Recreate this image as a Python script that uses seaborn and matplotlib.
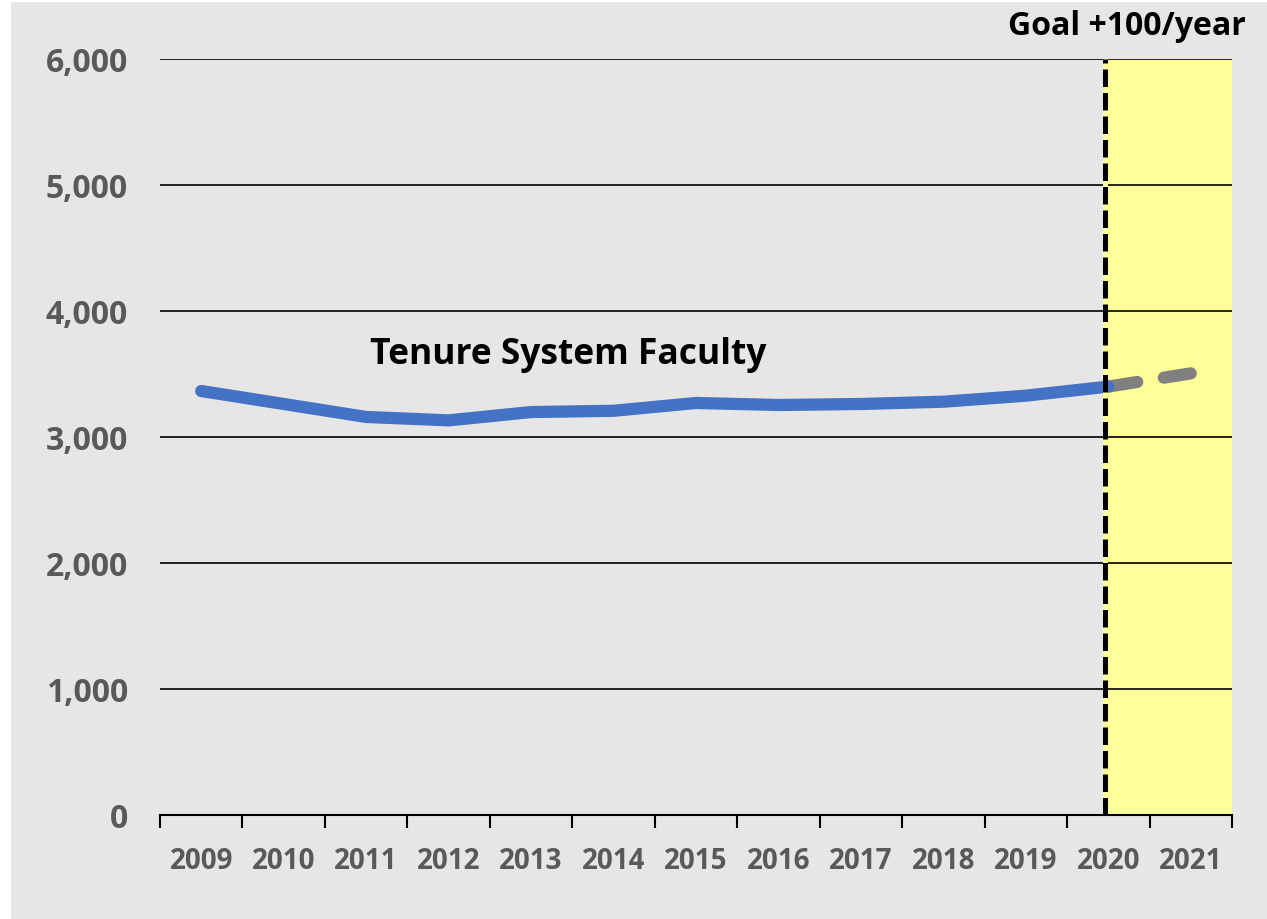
import pandas as pd
import matplotlib.pyplot as plt
import seaborn as sns
from matplotlib.patches import Rectangle

# data
years = ["2009", "2010", "2011", "2012", "2013", "2014", "2015",
         "2016", "2017", "2018", "2019", "2020", "2021"]
faculty = [3365, 3262, 3159, 3132, 3198, 3208, 3270, 3254, 3262, 3280, 3328, 3400]
goal_years = ["2020", "2021"]
goal_values = [3400, 3505]
y_ticks = [0, 1000, 2000, 3000, 4000, 5000, 6000]

bg = "#E6E6E6"
gray_txt = "#595959"

sns.set_theme(style="white")
plt.rcParams["font.family"] = ["Open Sans", "DejaVu Sans"]

pos = {y: i for i, y in enumerate(years)}
df_actual = pd.DataFrame({"x": [pos[y] for y in years[:len(faculty)]], "value": faculty})
df_goal = pd.DataFrame({"x": [pos[y] for y in goal_years], "value": goal_values})

fig = plt.figure(figsize=(12.67, 9.2), dpi=100, facecolor="white")
fig.patches.append(Rectangle((11 / 1267, 0), 1, 917 / 920, transform=fig.transFigure,
                             facecolor=bg, edgecolor="none", zorder=-10))
ax = fig.add_axes([160 / 1267, 104 / 920, 1072 / 1267, 756 / 920])
ax.set_facecolor(bg)

# yellow goal zone
x_goal = pos["2020"] - 0.04
ax.axvspan(x_goal, len(years) - 0.5, ymin=0, ymax=1, color="#FFFF99", lw=0, zorder=0)

# grid lines
for t in y_ticks[1:]:
    ax.axhline(t, color="black", lw=1.2, zorder=1)

sns.lineplot(data=df_goal, x="x", y="value", ax=ax, color="#808080", lw=8.8,
             dashes=False, zorder=3, solid_capstyle="round")
ax.lines[-1].set_linestyle((0, (2.4, 2.2)))
ax.lines[-1].set_dash_capstyle("round")
sns.lineplot(data=df_actual, x="x", y="value", ax=ax, color="#4472C4", lw=8.8,
             zorder=4, solid_capstyle="round", solid_joinstyle="round")

# dashed goal marker line
ax.axvline(x_goal, color="#FFFF99", lw=3.6, zorder=5)
ax.axvline(x_goal, color="black", lw=3.6, linestyle=(0, (3.5, 1.2)), zorder=6)

ax.set_xlim(-0.5, len(years) - 0.5)
ax.set_ylim(0, 6000)
ax.set_yticks(y_ticks)
ax.set_yticklabels([f"{t:,}" for t in y_ticks], fontsize=23, fontweight="bold", color=gray_txt)
ax.set_xticks(range(len(years)))
ax.set_xticklabels(years, fontsize=20, fontweight="bold", color=gray_txt)
ax.set_xticks([i - 0.5 for i in range(len(years) + 1)], minor=True)
ax.tick_params(axis="x", which="major", length=0, pad=22)
ax.tick_params(axis="x", which="minor", bottom=True, length=9, width=1.5,
               color="black", direction="out")
ax.tick_params(axis="y", length=0, pad=23)
ax.set_xlabel("")
ax.set_ylabel("")

for s in ["top", "right", "left"]:
    ax.spines[s].set_visible(False)
ax.spines["bottom"].set_color("black")
ax.spines["bottom"].set_linewidth(1.5)

ax.text(4.45, 3660, "Tenure System Faculty", fontsize=25.5, fontweight="bold",
        color="black", ha="center", va="center", zorder=7)
ax.text(11.22, 6265, "Goal +100/year", fontsize=23, fontweight="bold",
        color="black", ha="center", va="center", clip_on=False, zorder=7)

fig.savefig("out.png", dpi=100, facecolor=fig.get_facecolor())
